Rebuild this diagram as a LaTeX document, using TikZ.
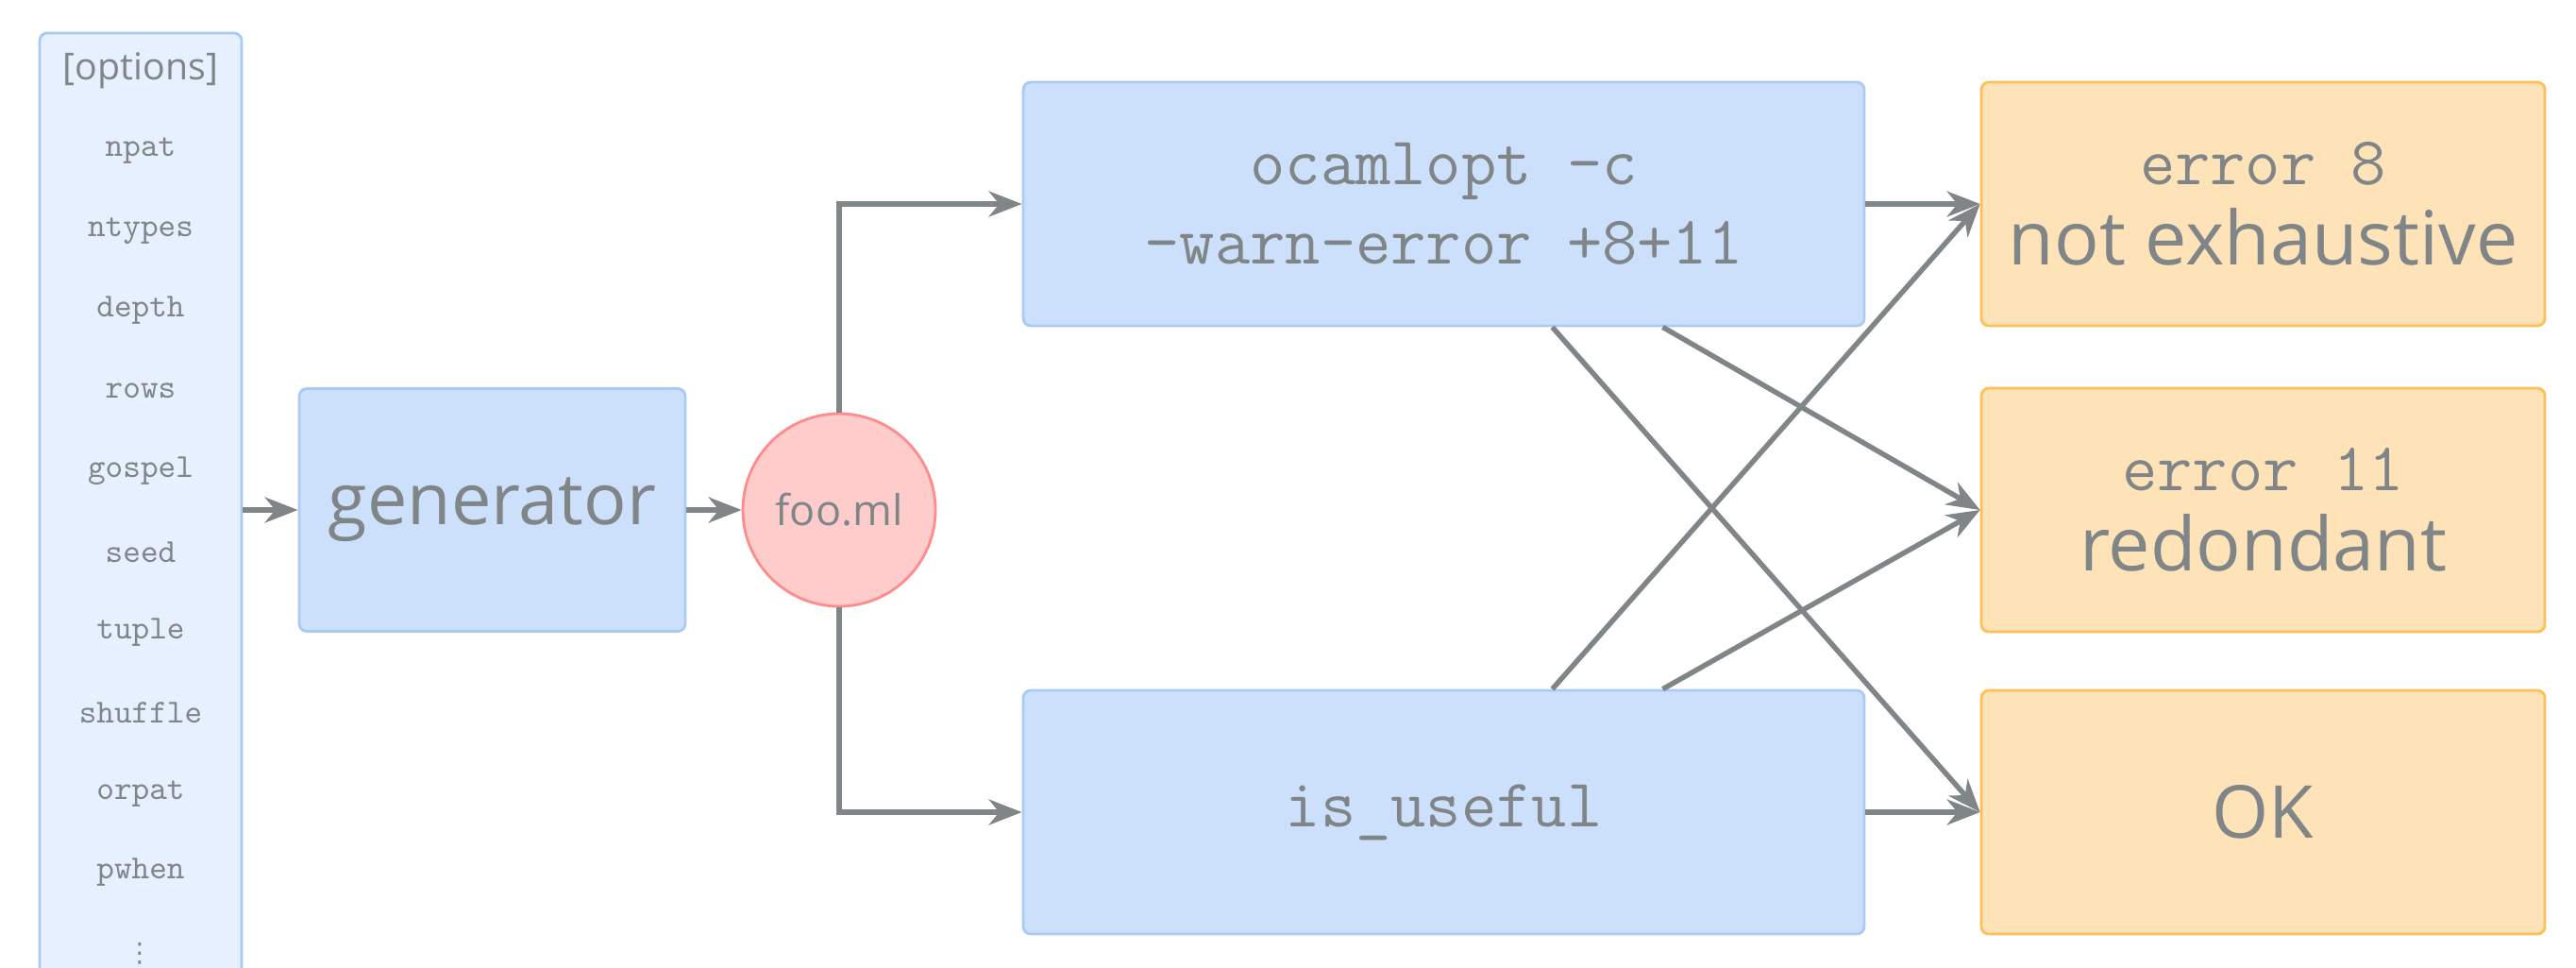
\documentclass[tikz,border=0pt]{standalone}
\usepackage{fontspec}
\setmainfont{Open Sans}
\newfontfamily\symfont{DejaVu Sans}
\usetikzlibrary{arrows.meta}

\definecolor{txtgray}{RGB}{128,133,136}
\definecolor{linegray}{RGB}{128,133,135}
\definecolor{boxblue}{RGB}{204,224,252}
\definecolor{edgeblue}{RGB}{170,202,246}
\definecolor{optblue}{RGB}{230,240,254}
\definecolor{boxorange}{RGB}{255,227,184}
\definecolor{edgeorange}{RGB}{255,192,85}
\definecolor{filepink}{RGB}{255,204,204}
\definecolor{edgepink}{RGB}{255,140,140}

\tikzset{
  stage/.style={draw=edgeblue, fill=boxblue, rounded corners=0.08cm, line width=0.8pt,
    minimum width=8.91cm, minimum height=2.58cm, align=center, text=txtgray},
  result/.style={draw=edgeorange, fill=boxorange, rounded corners=0.08cm, line width=0.8pt,
    minimum width=5.97cm, minimum height=2.58cm, align=center, text=txtgray},
  opt/.style={text=txtgray, font=\ttfamily\fontsize{10.1}{12}\selectfont},
  arr/.style={draw=linegray, line width=1.55pt,
    -{Stealth[length=0.35cm, width=0.27cm, inset=0.11cm]}}
}

\begin{document}
\begin{tikzpicture}
\clip (0,0) rectangle (27.29,-10.24);

  % options column
  \node[draw=edgeblue, fill=optblue, rounded corners=0.08cm, line width=0.8pt,
    minimum width=2.14cm, minimum height=10.1cm] (opts) at (1.49,-5.40) {};
  \node[text=txtgray, font=\fontsize{11.2}{13}\selectfont] (head) at (1.49,-0.75) {[options]};
  \node[opt] (npat) at (1.49,-1.60) {npat};
  \node[opt] (ntypes) at (1.49,-2.45) {ntypes};
  \node[opt] (depth) at (1.49,-3.29) {depth};
  \node[opt] (rows) at (1.49,-4.14) {rows};
  \node[opt] (gospel) at (1.49,-4.99) {gospel};
  \node[opt] (seed) at (1.49,-5.85) {seed};
  \node[opt] (tuple) at (1.49,-6.70) {tuple};
  \node[opt] (shuffle) at (1.49,-7.55) {shuffle};
  \node[opt] (orpat) at (1.49,-8.41) {orpat};
  \node[opt] (pwhen) at (1.49,-9.24) {pwhen};
  \node[text=txtgray, font=\symfont\fontsize{8}{8}\selectfont, inner sep=0pt] (dots) at (1.48,-10.10) {⋮};

  % generator and file
  \node[stage, minimum width=4.09cm, minimum height=2.57cm,
    font=\fontsize{21.5}{26}\selectfont] (gen) at (5.215,-5.40) {generator};
  \node[circle, draw=edgepink, fill=filepink, line width=0.8pt, minimum size=2.04cm,
    text=txtgray, font=\fontsize{12.8}{15}\selectfont] (foo) at (8.89,-5.40) {foo.ml};

  % checkers
  \node[stage, font=\ttfamily\fontsize{20.6}{24}\selectfont] (ocaml) at (15.295,-2.16)
    {ocamlopt -c\\-warn-error +8+11};
  \node[stage, font=\ttfamily\fontsize{20.6}{24}\selectfont] (useful) at (15.295,-8.60) {is\_useful};

  % outcomes
  \node[result] (err8) at (23.975,-2.16)
    {\ttfamily\fontsize{20.6}{24}\selectfont error 8\\[6pt]\fontsize{22.5}{26}\selectfont not exhaustive};
  \node[result] (err11) at (23.975,-5.40)
    {\ttfamily\fontsize{20.6}{24}\selectfont error 11\\[6pt]\fontsize{22.5}{26}\selectfont redondant};
  \node[result, font=\fontsize{22}{26}\selectfont] (ok) at (23.975,-8.60) {OK};

  % connectors
  \draw[arr] (opts.east) -- (gen.west);
  \draw[arr] (gen.east) -- (foo.west);
  \draw[arr] (foo.north) |- (ocaml.west);
  \draw[arr] (foo.south) |- (useful.west);
  \draw[arr] (ocaml.east) -- (err8.west);
  \draw[arr] (useful.east) -- (ok.west);
  \draw[arr] ([xshift=1.15cm]ocaml.south) -- (ok.west);
  \draw[arr] ([xshift=2.32cm]ocaml.south) -- (err11.west);
  \draw[arr] ([xshift=1.15cm]useful.north) -- (err8.west);
  \draw[arr] ([xshift=2.32cm]useful.north) -- (err11.west);

\end{tikzpicture}
\end{document}
